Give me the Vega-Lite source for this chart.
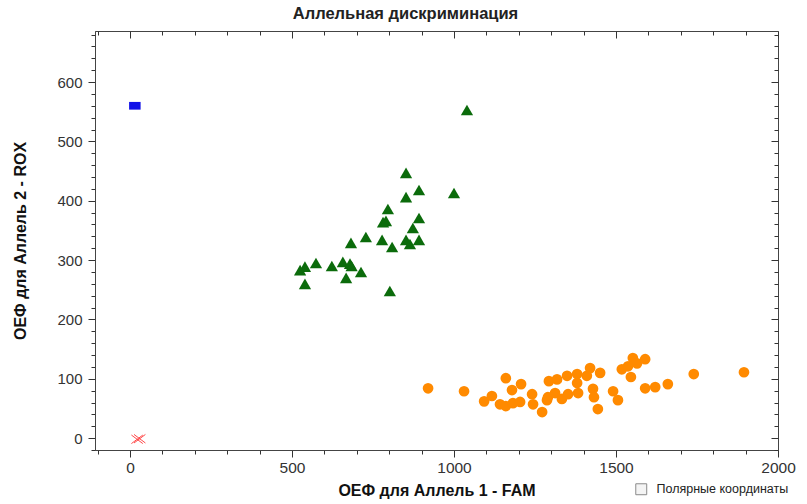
{
  "$schema": "https://vega.github.io/schema/vega-lite/v6.json",
  "width": 683,
  "height": 419,
  "autosize": {"type": "none"},
  "padding": {"left": 95, "top": 31, "right": 29, "bottom": 54},
  "background": "#ffffff",
  "title": {"text": "Аллельная дискриминация", "font": "Liberation Sans", "fontSize": 16.5, "fontWeight": "bold", "color": "#222222", "dx": -31, "offset": 5},
  "config": {"view": {"stroke": "#444444", "strokeWidth": 1}, "font": "Liberation Sans"},
  "datasets": {
    "pts": [
      {"g": "Аллель 2", "fam": 15, "rox": 560},
      {"g": "Оба", "fam": 1040, "rox": 553},
      {"g": "Оба", "fam": 852, "rox": 447},
      {"g": "Оба", "fam": 892, "rox": 418},
      {"g": "Оба", "fam": 1000, "rox": 413},
      {"g": "Оба", "fam": 852, "rox": 406},
      {"g": "Оба", "fam": 796, "rox": 386},
      {"g": "Оба", "fam": 892, "rox": 371},
      {"g": "Оба", "fam": 781, "rox": 364},
      {"g": "Оба", "fam": 790, "rox": 366},
      {"g": "Оба", "fam": 873, "rox": 354},
      {"g": "Оба", "fam": 728, "rox": 339},
      {"g": "Оба", "fam": 778, "rox": 334},
      {"g": "Оба", "fam": 682, "rox": 329},
      {"g": "Оба", "fam": 852, "rox": 334},
      {"g": "Оба", "fam": 892, "rox": 334},
      {"g": "Оба", "fam": 864, "rox": 327},
      {"g": "Оба", "fam": 809, "rox": 322},
      {"g": "Оба", "fam": 574, "rox": 295},
      {"g": "Оба", "fam": 540, "rox": 289},
      {"g": "Оба", "fam": 525, "rox": 283},
      {"g": "Оба", "fam": 623, "rox": 290},
      {"g": "Оба", "fam": 657, "rox": 297},
      {"g": "Оба", "fam": 679, "rox": 294},
      {"g": "Оба", "fam": 684, "rox": 290},
      {"g": "Оба", "fam": 713, "rox": 280},
      {"g": "Оба", "fam": 667, "rox": 270},
      {"g": "Оба", "fam": 540, "rox": 260},
      {"g": "Оба", "fam": 802, "rox": 248},
      {"g": "Аллель 1", "fam": 920, "rox": 84},
      {"g": "Аллель 1", "fam": 1031, "rox": 79},
      {"g": "Аллель 1", "fam": 1093, "rox": 62},
      {"g": "Аллель 1", "fam": 1117, "rox": 71},
      {"g": "Аллель 1", "fam": 1142, "rox": 57},
      {"g": "Аллель 1", "fam": 1160, "rox": 101},
      {"g": "Аллель 1", "fam": 1160, "rox": 54},
      {"g": "Аллель 1", "fam": 1179, "rox": 81},
      {"g": "Аллель 1", "fam": 1182, "rox": 59},
      {"g": "Аллель 1", "fam": 1207, "rox": 91},
      {"g": "Аллель 1", "fam": 1204, "rox": 61},
      {"g": "Аллель 1", "fam": 1241, "rox": 74},
      {"g": "Аллель 1", "fam": 1244, "rox": 57},
      {"g": "Аллель 1", "fam": 1272, "rox": 44},
      {"g": "Аллель 1", "fam": 1287, "rox": 64},
      {"g": "Аллель 1", "fam": 1293, "rox": 96},
      {"g": "Аллель 1", "fam": 1290, "rox": 69},
      {"g": "Аллель 1", "fam": 1312, "rox": 76},
      {"g": "Аллель 1", "fam": 1318, "rox": 99},
      {"g": "Аллель 1", "fam": 1333, "rox": 66},
      {"g": "Аллель 1", "fam": 1349, "rox": 105},
      {"g": "Аллель 1", "fam": 1352, "rox": 74},
      {"g": "Аллель 1", "fam": 1380, "rox": 108},
      {"g": "Аллель 1", "fam": 1380, "rox": 93},
      {"g": "Аллель 1", "fam": 1383, "rox": 76},
      {"g": "Аллель 1", "fam": 1410, "rox": 105},
      {"g": "Аллель 1", "fam": 1420, "rox": 118},
      {"g": "Аллель 1", "fam": 1429, "rox": 83},
      {"g": "Аллель 1", "fam": 1432, "rox": 69},
      {"g": "Аллель 1", "fam": 1444, "rox": 49},
      {"g": "Аллель 1", "fam": 1451, "rox": 110},
      {"g": "Аллель 1", "fam": 1491, "rox": 79},
      {"g": "Аллель 1", "fam": 1506, "rox": 64},
      {"g": "Аллель 1", "fam": 1518, "rox": 116},
      {"g": "Аллель 1", "fam": 1537, "rox": 121},
      {"g": "Аллель 1", "fam": 1546, "rox": 103},
      {"g": "Аллель 1", "fam": 1552, "rox": 135},
      {"g": "Аллель 1", "fam": 1565, "rox": 126},
      {"g": "Аллель 1", "fam": 1590, "rox": 133},
      {"g": "Аллель 1", "fam": 1590, "rox": 84},
      {"g": "Аллель 1", "fam": 1621, "rox": 86},
      {"g": "Аллель 1", "fam": 1660, "rox": 91},
      {"g": "Аллель 1", "fam": 1740, "rox": 108},
      {"g": "Аллель 1", "fam": 1895, "rox": 111}
    ],
    "ntc": [
      {"g": "NTC", "fam": 22, "rox": -2},
      {"g": "NTC", "fam": 30, "rox": -1}
    ],
    "opt": [
      {"opt": "Полярные координаты"}
    ]
  },
  "layer": [
    {
      "data": {"name": "pts"},
      "mark": {"type": "point", "filled": true, "opacity": 1},
      "encoding": {
        "x": {
          "field": "fam", "type": "quantitative",
          "scale": {"domain": [-108, 2000], "nice": false, "zero": false},
          "axis": {
            "orient": "bottom",
            "title": "ОЕФ для Аллель 1 - FAM",
            "titleFont": "Liberation Sans", "titleFontSize": 16, "titleFontWeight": "bold", "titleColor": "#111111", "titlePadding": 7,
            "values": [-100, 0, 100, 200, 300, 400, 500, 600, 700, 800, 900, 1000, 1100, 1200, 1300, 1400, 1500, 1600, 1700, 1800, 1900, 2000],
            "labelExpr": "datum.value % 500 === 0 ? format(datum.value, 'd') : ''",
            "labelFont": "Liberation Sans", "labelFontSize": 15.5, "labelColor": "#333333", "labelPadding": 3,
            "labelOverlap": false, "labelFlush": false,
            "tickColor": "#333333",
            "tickSize": {"condition": {"test": "datum.value % 500 === 0", "value": 7}, "value": 4},
            "domainColor": "#444444", "grid": false
          }
        },
        "y": {
          "field": "rox", "type": "quantitative",
          "scale": {"domain": [-20, 686], "nice": false, "zero": false},
          "axis": {
            "orient": "left",
            "title": "ОЕФ для Аллель 2 - ROX",
            "titleFont": "Liberation Sans", "titleFontSize": 16, "titleFontWeight": "bold", "titleColor": "#111111", "titlePadding": 28,
            "values": [-20, 0, 20, 40, 60, 80, 100, 120, 140, 160, 180, 200, 220, 240, 260, 280, 300, 320, 340, 360, 380, 400, 420, 440, 460, 480, 500, 520, 540, 560, 580, 600, 620, 640, 660, 680],
            "labelExpr": "datum.value % 100 === 0 ? format(datum.value, 'd') : ''",
            "labelFont": "Liberation Sans", "labelFontSize": 15, "labelColor": "#333333", "labelPadding": 6,
            "labelOverlap": false, "labelFlush": false,
            "tickColor": "#333333",
            "tickSize": {"condition": {"test": "datum.value % 100 === 0", "value": 7}, "value": 4},
            "domainColor": "#444444", "grid": false
          }
        },
        "shape": {
          "field": "g", "type": "nominal",
          "scale": {"domain": ["Аллель 1", "Аллель 2", "Оба"], "range": ["circle", "M-1,-0.67H1V0.67H-1Z", "triangle-up"]},
          "legend": null
        },
        "color": {
          "field": "g", "type": "nominal",
          "scale": {"domain": ["Аллель 1", "Аллель 2", "Оба"], "range": ["#ff8a00", "#1010e8", "#0b6b0b"]},
          "legend": null
        },
        "size": {
          "field": "g", "type": "nominal",
          "scale": {"domain": ["Аллель 1", "Аллель 2", "Оба"], "range": [115, 150, 85]},
          "legend": null
        }
      }
    },
    {
      "data": {"name": "ntc"},
      "mark": {"type": "point", "filled": false, "shape": "M-1,-0.75L1,0.75M-1,0.75L1,-0.75", "size": 130, "stroke": "#ff4a4a", "strokeWidth": 1, "opacity": 1},
      "encoding": {
        "x": {"field": "fam", "type": "quantitative", "axis": null},
        "y": {"field": "rox", "type": "quantitative", "axis": null}
      }
    },
    {
      "data": {"name": "ntc"},
      "mark": {"type": "point", "opacity": 0},
      "encoding": {
        "x": {
          "field": "fam", "type": "quantitative",
          "axis": {
            "orient": "top", "title": null, "labels": false, "domain": false, "grid": false,
            "values": [-100, 0, 100, 200, 300, 400, 500, 600, 700, 800, 900, 1000, 1100, 1200, 1300, 1400, 1500, 1600, 1700, 1800, 1900, 2000],
            "tickColor": "#333333",
            "tickSize": {"condition": {"test": "datum.value % 500 === 0", "value": -7}, "value": -4}
          }
        },
        "y": {
          "field": "rox", "type": "quantitative",
          "axis": {
            "orient": "right", "title": null, "labels": false, "domain": false, "grid": false,
            "values": [-20, 0, 20, 40, 60, 80, 100, 120, 140, 160, 180, 200, 220, 240, 260, 280, 300, 320, 340, 360, 380, 400, 420, 440, 460, 480, 500, 520, 540, 560, 580, 600, 620, 640, 660, 680],
            "tickColor": "#333333",
            "tickSize": {"condition": {"test": "datum.value % 100 === 0", "value": -7}, "value": -4}
          }
        }
      }
    },
    {
      "data": {"name": "opt"},
      "mark": {"type": "square", "opacity": 0},
      "encoding": {
        "color": {
          "field": "opt", "type": "nominal",
          "scale": {"range": ["#f4f4f4"]},
          "legend": {
            "title": null, "orient": "none", "legendX": 540, "legendY": 452,
            "symbolType": "square", "symbolSize": 120, "symbolOpacity": 1,
            "symbolStrokeColor": "#8a8a8a", "symbolStrokeWidth": 1,
            "labelFont": "Liberation Sans", "labelFontSize": 12.5, "labelColor": "#222222", "labelOffset": 9,
            "encode": {"symbols": {"update": {"opacity": {"value": 1}, "stroke": {"value": "#8a8a8a"}, "strokeWidth": {"value": 1}}}}
          }
        }
      }
    }
  ],
  "resolve": {
    "axis": {"x": "independent", "y": "independent"},
    "scale": {"color": "independent", "shape": "independent", "size": "independent"}
  }
}
